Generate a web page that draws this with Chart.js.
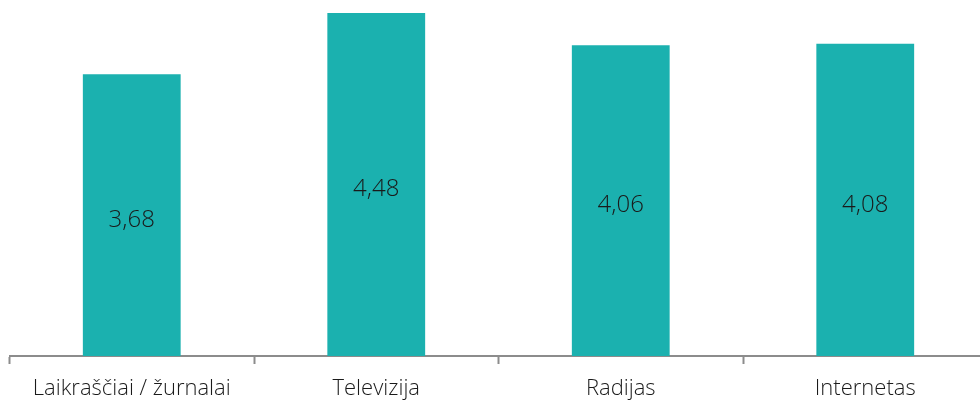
<!DOCTYPE html>
<html>
<head>
<meta charset="utf-8">
<script src="https://cdn.jsdelivr.net/npm/chart.js@4/dist/chart.umd.min.js"></script>
<style>
  html, body { margin: 0; padding: 0; background: #fff; overflow: hidden; }
  #wrap { width: 990px; height: 402px; position: relative; }
</style>
</head>
<body>
<div id="wrap"><canvas id="chart"></canvas></div>
<script>
const categories = ["Laikraščiai / žurnalai", "Televizija", "Radijas", "Internetas"];
const values = [3.68, 4.48, 4.06, 4.08];

// writes each value (comma decimal) in the middle of its bar
const barValues = {
  id: "barValues",
  afterDatasetsDraw(chart) {
    const ctx = chart.ctx;
    const meta = chart.getDatasetMeta(0);
    ctx.save();
    ctx.font = "300 24px 'Open Sans'";
    ctx.fillStyle = "#1a1a1a";
    ctx.textAlign = "center";
    ctx.textBaseline = "middle";
    meta.data.forEach(function (bar, i) {
      const text = values[i].toFixed(2).replace(".", ",");
      ctx.fillText(text, bar.x, (bar.y + bar.base) / 2 + 5);
    });
    ctx.restore();
  }
};

const ctx = document.getElementById("chart").getContext("2d");
new Chart(ctx, {
  type: "bar",
  data: {
    labels: categories,
    datasets: [
      {
        data: values,
        backgroundColor: "#1bb1af",
        borderWidth: 0,
        categoryPercentage: 1,
        barPercentage: 0.4,
      },
    ],
  },
  options: {
    responsive: true,
    maintainAspectRatio: false,
    animation: false,
    events: [],
    layout: { padding: { left: 9.5, right: 2.5, top: 0, bottom: 0 } },
    plugins: {
      legend: { display: false },
      tooltip: { enabled: false },
    },
    scales: {
      x: {
        z: 1,
        afterFit: function (scale) {
          scale.height = 46;
        },
        border: { display: true, color: "#8c8c8c", width: 2 },
        grid: {
          drawOnChartArea: false,
          drawTicks: true,
          tickLength: 8,
          tickWidth: 2,
          tickColor: "#8c8c8c",
        },
        ticks: {
          color: "#1a1a1a",
          padding: 12,
          maxRotation: 0,
          font: { family: "'Open Sans'", size: 22, weight: "300" },
        },
      },
      y: {
        display: false,
        min: 0,
        max: 4.65,
      },
    },
  },
  plugins: [barValues],
});
</script>
</body>
</html>
